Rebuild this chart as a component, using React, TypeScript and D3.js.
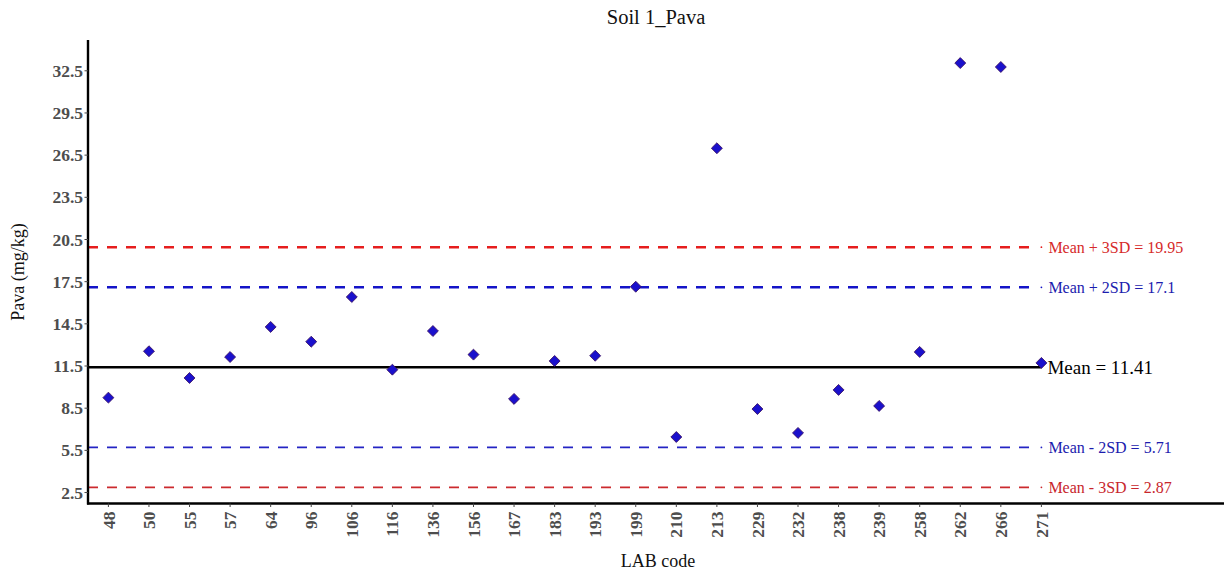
import React from "react";
import * as d3 from "d3";

// Laboratory codes along the x axis
const labCodes: string[] = [
  "48", "50", "55", "57", "64", "96", "106", "116", "136", "156", "167", "183",
  "193", "199", "210", "213", "229", "232", "238", "239", "258", "262", "266", "271",
];

// Reported Pava (mg/kg) per laboratory
const pavaValues: number[] = [
  9.25, 12.55, 10.65, 12.14, 14.28, 13.23, 16.41, 11.24, 13.99, 12.31, 9.16, 11.86,
  12.23, 17.14, 6.45, 26.99, 8.44, 6.74, 9.8, 8.66, 12.5, 33.05, 32.77, 11.72,
];

// Y tick labels
const yTicks: number[] = [2.5, 5.5, 8.5, 11.5, 14.5, 17.5, 20.5, 23.5, 26.5, 29.5, 32.5];

// Reference lines: mean and ±2SD / ±3SD limits
const meanValue = 11.41;
const limitValues: number[] = [19.95, 17.1, 5.71, 2.87];
const limitLabels: string[] = [
  "Mean + 3SD = 19.95",
  "Mean + 2SD = 17.1",
  "Mean - 2SD = 5.71",
  "Mean - 3SD = 2.87",
];
const limitColors: string[] = ["#e61e1e", "#1414c8", "#2424c4", "#cc2a2e"];
const limitTextColors: string[] = ["#d62a2a", "#1c1cae", "#1c1cae", "#c8262c"];
const limitWidths: number[] = [2.4, 2.4, 1.6, 1.6];

const W = 1224;
const H = 573;
const FONT = "'Liberation Serif', 'Times New Roman', serif";

export default function App() {
  const left = 88;
  const bottom = 503.5;
  const top = 40;

  const x = d3.scalePoint<string>().domain(labCodes).range([108.4, 1041.4]);
  const y = d3.scaleLinear().domain([1.72, 34.69]).range([bottom, top]);

  const diamond = d3.symbol().type(d3.symbolSquare).size(60)() as string;
  const lastX = x(labCodes[labCodes.length - 1]) as number;

  return (
    <svg
      width={W}
      height={H}
      style={{ position: "absolute", left: 0, top: 0, background: "#fff" }}
    >
      <rect x={0} y={0} width={W} height={H} fill="#fff" />

      {/* Title */}
      <text x={656} y={24} textAnchor="middle" fontFamily={FONT} fontSize={20.5} fill="#111">
        Soil 1_Pava
      </text>

      {/* Limit lines */}
      {limitValues.map((v, i) => (
        <g key={"lim" + i}>
          <line
            x1={left}
            x2={lastX - 12}
            y1={y(v)}
            y2={y(v)}
            stroke={limitColors[i]}
            strokeWidth={limitWidths[i]}
            strokeDasharray="10 9"
          />
          <circle cx={lastX} cy={y(v)} r={0.9} fill={limitColors[i]} />
          <text
            x={lastX + 7}
            y={y(v)}
            dy="0.35em"
            fontFamily={FONT}
            fontSize={16}
            fill={limitTextColors[i]}
          >
            {limitLabels[i]}
          </text>
        </g>
      ))}

      {/* Mean line */}
      <line x1={left} x2={lastX} y1={y(meanValue)} y2={y(meanValue)} stroke="#000" strokeWidth={2.4} />
      <text
        x={lastX + 6}
        y={y(meanValue)}
        dy="0.35em"
        fontFamily={FONT}
        fontSize={19}
        fill="#000"
      >
        Mean = 11.41
      </text>

      {/* Points */}
      {labCodes.map((c, i) => (
        <path
          key={"pt" + c}
          d={diamond}
          transform={`translate(${x(c)},${y(pavaValues[i])}) rotate(45)`}
          fill="#1a10cc"
          stroke="#3a1060"
          strokeWidth={0.8}
        />
      ))}

      {/* Y axis */}
      <line x1={left} x2={left} y1={top} y2={bottom + 1} stroke="#000" strokeWidth={2.4} />
      {yTicks.map((t) => (
        <g key={"yt" + t}>
          <line x1={left - 3.5} x2={left} y1={y(t)} y2={y(t)} stroke="#444" strokeWidth={1} />
          <text
            x={left - 5}
            y={y(t)}
            dy="0.35em"
            textAnchor="end"
            fontFamily={FONT}
            fontWeight="bold"
            fontSize={17.5}
            fill="#4d4d4d"
          >
            {t}
          </text>
        </g>
      ))}

      {/* X axis */}
      <line x1={left - 1} x2={W} y1={bottom} y2={bottom} stroke="#000" strokeWidth={2.4} />
      {labCodes.map((c) => (
        <g key={"xt" + c}>
          <line x1={x(c)} x2={x(c)} y1={bottom} y2={bottom + 3.5} stroke="#444" strokeWidth={1} />
          <text
            transform={`translate(${x(c)},${bottom + 8}) rotate(-90)`}
            dy="0.35em"
            textAnchor="end"
            fontFamily={FONT}
            fontWeight="bold"
            fontSize={17.5}
            fill="#4d4d4d"
          >
            {c}
          </text>
        </g>
      ))}

      {/* Axis titles */}
      <text x={658} y={567} textAnchor="middle" fontFamily={FONT} fontSize={18} fill="#111">
        LAB code
      </text>
      <text
        transform={`translate(24,272) rotate(-90)`}
        textAnchor="middle"
        fontFamily={FONT}
        fontSize={18}
        fill="#111"
      >
        Pava (mg/kg)
      </text>
    </svg>
  );
}
